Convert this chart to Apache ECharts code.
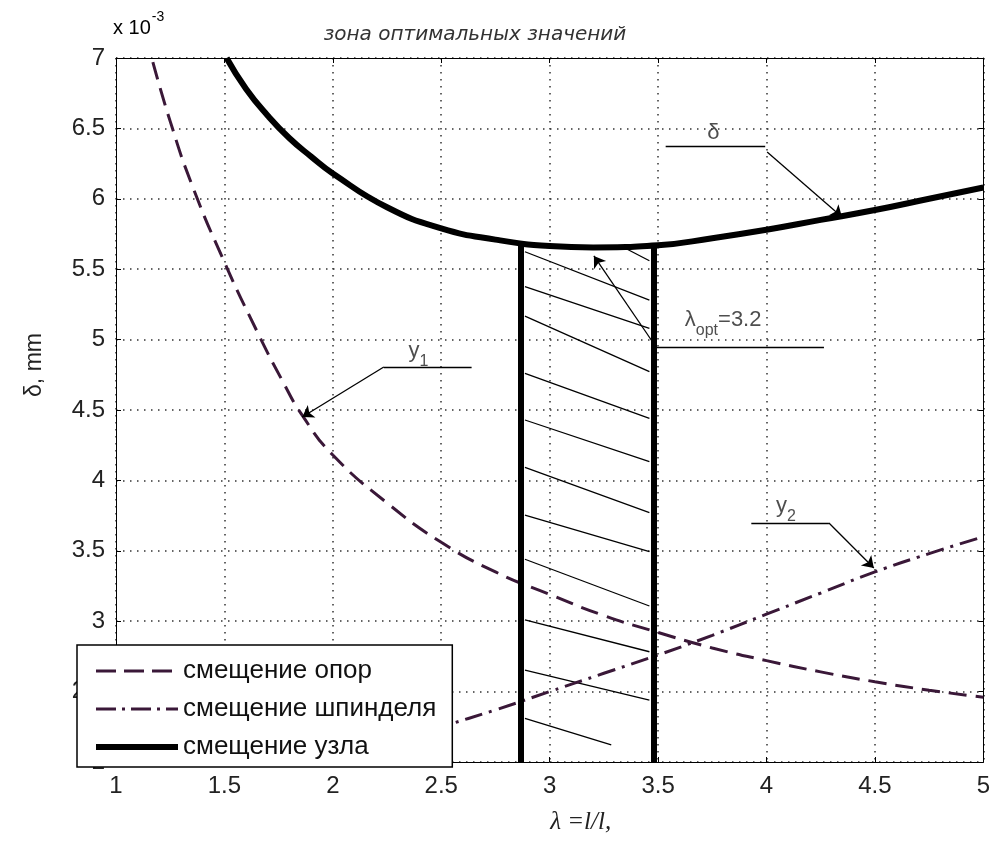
<!DOCTYPE html>
<html>
<head>
<meta charset="utf-8">
<script src="https://cdn.jsdelivr.net/npm/echarts@6/dist/echarts.min.js"></script>
<style>
  html, body { margin: 0; padding: 0; background: #fff; }
  #chart { width: 993px; height: 857px; }
</style>
</head>
<body>
<div id="chart"></div>
<script>
// λ = l/l1 values and displacements (×10^-3 mm)
const supportX = [1.17, 1.25, 1.35, 1.5, 1.65, 1.77, 1.86, 2.0, 2.25, 2.5, 2.75, 3.0, 3.25, 3.5, 3.75, 4.0, 4.25, 4.5, 4.75, 5.0];
const supportY = [6.97, 6.55, 6.1, 5.55, 5.06, 4.7, 4.46, 4.18, 3.84, 3.56, 3.35, 3.19, 3.04, 2.92, 2.81, 2.72, 2.64, 2.57, 2.51, 2.46];

const spindleX = [2.0, 2.25, 2.5, 2.75, 3.0, 3.25, 3.5, 3.75, 4.0, 4.25, 4.5, 4.75, 5.0];
const spindleY = [1.98, 2.13, 2.25, 2.37, 2.5, 2.63, 2.76, 2.9, 3.05, 3.2, 3.35, 3.48, 3.6];

const nodeX = [1.51, 1.6, 1.7, 1.8, 1.9, 2.0, 2.25, 2.5, 2.75, 3.0, 3.2, 3.5, 3.75, 4.0, 4.25, 4.5, 4.75, 5.0];
const nodeY = [7.0, 6.78, 6.59, 6.43, 6.3, 6.18, 5.94, 5.79, 5.71, 5.665, 5.655, 5.67, 5.72, 5.78, 5.85, 5.92, 6.0, 6.08];

const seriesNames = ['смещение опор', 'смещение шпинделя', 'смещение узла'];

// optimum zone borders: λ and curve height at each border
const zoneX = [2.868, 3.479];
const zoneTop = [5.69, 5.67];

// hatching strokes inside the zone: [λ1, δ1, λ2, δ2]
const hatch = [
  [2.886, 5.624, 3.46, 5.281],
  [2.886, 5.376, 3.46, 5.08],
  [2.886, 5.167, 3.46, 4.772],
  [2.886, 4.76, 3.46, 4.441],
  [2.886, 4.429, 3.46, 4.133],
  [2.886, 4.093, 3.46, 3.771],
  [2.886, 3.754, 3.46, 3.494],
  [2.886, 3.44, 3.46, 3.108],
  [2.886, 3.009, 3.46, 2.783],
  [2.886, 2.653, 3.46, 2.44],
  [2.886, 2.31, 3.284, 2.121],
  [3.36, 5.64, 3.46, 5.56]
];

// callout shelves (plain) and pointers (with arrow head): [λ1, δ1, λ2, δ2]
const shelves = [
  [3.535, 6.375, 3.994, 6.375],
  [3.489, 4.947, 4.265, 4.947],
  [2.235, 4.805, 2.640, 4.805],
  [3.930, 3.697, 4.288, 3.697]
];
const pointers = [
  [4.003, 6.332, 4.348, 5.871],
  [3.475, 4.983, 3.204, 5.594],
  [2.235, 4.805, 1.859, 4.450],
  [4.288, 3.697, 4.495, 3.378]
];

// callout captions: [λ, δ, text]
const captions = [
  [3.755, 6.467, 'δ'],
  [3.80, 5.14, 'λ{sub|opt}=3.2'],
  [2.395, 4.92, 'y{sub|1}'],
  [4.09, 3.82, 'y{sub|2}']
];

const axisTitleY = 'δ, mm';
const axisTitleX = 'λ =l/l,';
const chartTitle = 'зона оптимальных значений';

const FONT = '"Liberation Sans", Arial, sans-serif';
const INK = '#3a1838';
const zip = (xs, ys) => xs.map((x, i) => [x, ys[i]]);
const seg = (r) => ({ coords: [[r[0], r[1]], [r[2], r[3]]] });
const hiddenMarker = { color: 'rgba(0,0,0,0)', borderColor: 'rgba(0,0,0,0)', borderWidth: 0, opacity: 0 };

const chart = echarts.init(document.getElementById('chart'));

const baseAxis = {
  type: 'value',
  axisLine: { show: true, onZero: false, lineStyle: { color: '#000', width: 1 } },
  axisTick: { show: true, inside: true, length: 5, lineStyle: { color: '#000' } }
};

chart.setOption({
  animation: false,
  backgroundColor: '#fff',
  title: {
    text: chartTitle,
    left: 470, top: 20, textAlign: 'center',
    textStyle: { fontFamily: '"DejaVu Sans", sans-serif', fontStyle: 'italic', fontWeight: 'normal', fontSize: 20, color: '#333' }
  },
  graphic: [{
    type: 'text', left: 113, top: 10,
    style: {
      text: '{b|x 10}{s|-3}',
      rich: {
        b: { fontFamily: FONT, fontSize: 20, color: '#222', padding: [14, 0, 0, 0] },
        s: { fontFamily: FONT, fontSize: 14, color: '#222', padding: [0, 0, 8, 1] }
      }
    }
  }],
  grid: { left: 116, right: 6, top: 58, bottom: 95, containLabel: false },
  legend: {
    orient: 'vertical', left: 77, top: 645,
    backgroundColor: '#fff', borderColor: '#000', borderWidth: 1.5,
    padding: [12, 16, 6, 16],
    itemWidth: 82, itemHeight: 14, itemGap: 10,
    selectedMode: false, z: 10,
    textStyle: { fontFamily: FONT, fontSize: 26, color: '#111', lineHeight: 28 },
    data: [
      { name: seriesNames[0], itemStyle: hiddenMarker, lineStyle: { color: INK, width: 3, type: [20, 8] } },
      { name: seriesNames[1], itemStyle: hiddenMarker, lineStyle: { color: INK, width: 3, type: [20, 6, 3, 6] } },
      { name: seriesNames[2], itemStyle: hiddenMarker, lineStyle: { color: '#000', width: 6 } }
    ]
  },
  xAxis: [
    Object.assign({}, baseAxis, {
      position: 'bottom', min: 1, max: 5, interval: 0.5,
      name: axisTitleX, nameLocation: 'middle', nameGap: 48,
      nameTextStyle: { fontFamily: '"Liberation Serif", serif', fontStyle: 'italic', fontSize: 25, color: '#222', padding: [0, 0, 0, 62] },
      axisLabel: { margin: 12, fontFamily: FONT, fontSize: 24, color: '#222' },
      splitLine: { show: true, lineStyle: { color: '#333', width: 1.5, type: [1.5, 5.5] } }
    }),
    Object.assign({}, baseAxis, {
      position: 'top', min: 1, max: 5, interval: 0.5,
      axisLabel: { show: false }, splitLine: { show: false }
    })
  ],
  yAxis: [
    Object.assign({}, baseAxis, {
      position: 'left', min: 2, max: 7, interval: 0.5,
      name: axisTitleY, nameLocation: 'middle', nameGap: 70,
      nameTextStyle: { fontFamily: FONT, fontSize: 23, color: '#222', padding: [0, 0, 0, 90] },
      axisLabel: { margin: 11, fontFamily: FONT, fontSize: 24, color: '#222' },
      splitLine: { show: true, lineStyle: { color: '#333', width: 1.5, type: [1.5, 5.5] } }
    }),
    Object.assign({}, baseAxis, {
      position: 'right', min: 2, max: 7, interval: 0.5,
      axisLabel: { show: false }, splitLine: { show: false }
    })
  ],
  series: [
    {
      name: seriesNames[0], type: 'line', smooth: true, symbol: 'none',
      data: zip(supportX, supportY),
      lineStyle: { color: INK, width: 3, type: [18, 9] }, itemStyle: { color: INK }
    },
    {
      name: seriesNames[1], type: 'line', smooth: true, symbol: 'none',
      data: zip(spindleX, spindleY),
      lineStyle: { color: INK, width: 3, type: [18, 7, 3, 7] }, itemStyle: { color: INK }
    },
    {
      name: seriesNames[2], type: 'line', smooth: true, symbol: 'none',
      data: zip(nodeX, nodeY),
      lineStyle: { color: '#000', width: 6 }, itemStyle: { color: '#000' }, z: 3
    },
    {
      // zone borders
      type: 'lines', coordinateSystem: 'cartesian2d', silent: true, z: 4,
      lineStyle: { color: '#000', width: 6, opacity: 1 },
      data: zoneX.map((x, i) => ({ coords: [[x, 2], [x, zoneTop[i]]] }))
    },
    {
      // hatching and callout shelves
      type: 'lines', coordinateSystem: 'cartesian2d', silent: true, z: 3,
      lineStyle: { color: '#000', width: 1.3, opacity: 1 },
      data: hatch.concat(shelves).map(seg)
    },
    {
      // callout pointers
      type: 'lines', coordinateSystem: 'cartesian2d', silent: true, z: 5,
      symbol: ['none', 'arrow'], symbolSize: 11,
      lineStyle: { color: '#000', width: 1.3, opacity: 1 },
      data: pointers.map(seg)
    },
    {
      type: 'scatter', silent: true, symbolSize: 0, z: 6,
      data: captions,
      label: {
        show: true, position: [0, 0], align: 'center', verticalAlign: 'middle',
        formatter: (p) => p.data[2],
        fontFamily: FONT, fontSize: 22, color: '#222',
        rich: { sub: { fontFamily: FONT, fontSize: 16, color: '#222', padding: [22, 0, 0, 0] } }
      }
    }
  ]
});
</script>
</body>
</html>
